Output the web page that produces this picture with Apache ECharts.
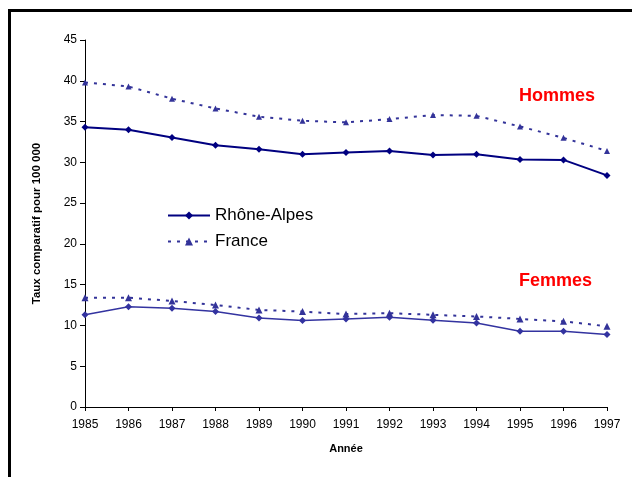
<!DOCTYPE html>
<html>
<head>
<meta charset="utf-8">
<script src="https://cdn.jsdelivr.net/npm/echarts@6/dist/echarts.min.js"></script>
<style>
  html, body { margin: 0; padding: 0; background: #fff; }
  #chart { width: 632px; height: 477px; }
</style>
</head>
<body>
<div id="chart"></div>
<script>
// années
const years = ['1985', '1986', '1987', '1988', '1989', '1990', '1991', '1992', '1993', '1994', '1995', '1996', '1997']

// hommes
const hommesRhoneAlpes = [34.3, 34.0, 33.05, 32.1, 31.6, 31.0, 31.2, 31.4, 30.9, 31.0, 30.35, 30.3, 28.4]
const hommesFrance = [39.8, 39.3, 37.8, 36.6, 35.6, 35.1, 34.9, 35.3, 35.8, 35.7, 34.4, 33.0, 31.4]

// femmes
const femmesRhoneAlpes = [11.3, 12.3, 12.1, 11.7, 10.9, 10.6, 10.8, 11.0, 10.65, 10.3, 9.3, 9.3, 8.9]
const femmesFrance = [13.4, 13.4, 13.0, 12.5, 11.9, 11.7, 11.4, 11.5, 11.3, 11.1, 10.8, 10.5, 9.9]

const font = 'Arial, "Liberation Sans", sans-serif'

const option = {
  animation: false,
  backgroundColor: '#fff',
  grid: {
    left: 85,
    right: 25,
    top: 40,
    bottom: 70
  },
  legend: {
    left: 167,
    top: 207,
    padding: 0,
    orient: 'vertical',
    itemWidth: 42,
    itemHeight: 10,
    itemGap: 9,
    textStyle: { fontFamily: font, fontSize: 17, color: '#000' },
    data: ['Rhône-Alpes', 'France']
  },
  xAxis: {
    type: 'category',
    boundaryGap: false,
    data: years,
    name: 'Année',
    nameLocation: 'middle',
    nameGap: 36,
    nameTextStyle: { fontFamily: font, fontSize: 11, fontWeight: 'bold', color: '#000' },
    axisLine: { lineStyle: { color: '#000', width: 1 } },
    axisTick: { show: true, length: 4, inside: false, alignWithLabel: true, lineStyle: { color: '#000' } },
    axisLabel: { fontFamily: font, fontSize: 12, color: '#000', margin: 12, interval: 0 },
    splitLine: { show: false }
  },
  yAxis: {
    type: 'value',
    min: 0,
    max: 45,
    interval: 5,
    name: 'Taux comparatif pour 100 000',
    nameLocation: 'middle',
    nameGap: 42,
    nameTextStyle: { fontFamily: font, fontSize: 11.5, fontWeight: 'bold', color: '#000' },
    axisLine: { show: true, lineStyle: { color: '#000', width: 1 } },
    axisTick: { show: true, length: 5, lineStyle: { color: '#000' } },
    axisLabel: { fontFamily: font, fontSize: 12, color: '#000', margin: 8 },
    splitLine: { show: false }
  },
  series: [
    {
      name: 'Rhône-Alpes',
      type: 'line',
      data: hommesRhoneAlpes,
      symbol: 'diamond',
      symbolSize: 7,
      lineStyle: { color: '#000080', width: 2 },
      itemStyle: { color: '#000080' }
    },
    {
      name: 'France',
      type: 'line',
      data: hommesFrance,
      symbol: 'triangle',
      symbolSize: 6,
      lineStyle: { color: '#333399', width: 2, type: [3, 6] },
      itemStyle: { color: '#333399' }
    },
    {
      name: 'Rhône-Alpes',
      type: 'line',
      data: femmesRhoneAlpes,
      symbol: 'diamond',
      symbolSize: 7,
      lineStyle: { color: '#3333a0', width: 1.5 },
      itemStyle: { color: '#3333a0' }
    },
    {
      name: 'France',
      type: 'line',
      data: femmesFrance,
      symbol: 'triangle',
      symbolSize: 7,
      lineStyle: { color: '#333399', width: 2, type: [3, 6] },
      itemStyle: { color: '#333399' }
    }
  ],
  graphic: [
    // cadre
    { type: 'rect', left: 8, top: 9, shape: { width: 3, height: 470 }, style: { fill: '#000' } },
    { type: 'rect', left: 8, top: 9, shape: { width: 630, height: 3 }, style: { fill: '#000' } },
    {
      type: 'text',
      left: 519,
      top: 87,
      style: { text: 'Hommes', fill: '#ff0000', font: 'bold 18px ' + font }
    },
    {
      type: 'text',
      left: 519,
      top: 272,
      style: { text: 'Femmes', fill: '#ff0000', font: 'bold 18px ' + font }
    }
  ]
}

const chart = echarts.init(document.getElementById('chart'), null, { renderer: 'canvas' })
chart.setOption(option)
window.addEventListener('resize', () => chart.resize())
</script>
</body>
</html>
